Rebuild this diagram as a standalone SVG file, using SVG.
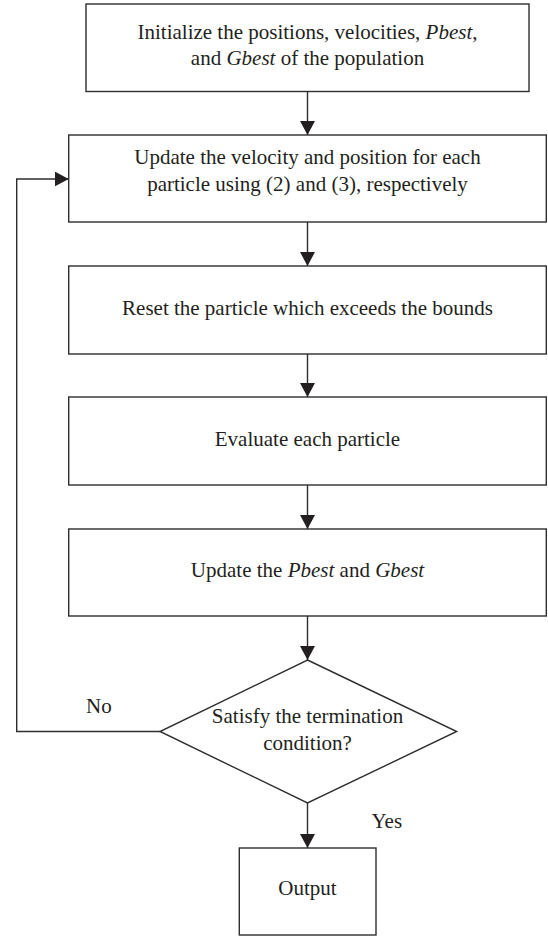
<svg xmlns="http://www.w3.org/2000/svg" width="548" height="936" viewBox="0 0 548 936">
<style>
.box{fill:#fff;stroke:#2e2e2e;stroke-width:1.4}
.ln{fill:none;stroke:#2e2e2e;stroke-width:1.4}
text{font-family:"Liberation Serif","Times New Roman",serif;font-size:21px;fill:#231f20}
.c{text-anchor:middle}
.i{font-style:italic}
</style>
<defs>
<marker id="ah" markerUnits="userSpaceOnUse" markerWidth="15" markerHeight="15" refX="14" refY="7.5" orient="auto" viewBox="0 0 15 15">
<path d="M0,0 L14,7.5 L0,15 z" fill="#231f20"/>
</marker>
</defs>
<rect width="548" height="936" fill="#fff"/>
<g id="connectors">
<line class="ln" x1="307.5" y1="91.5" x2="307.5" y2="135" marker-end="url(#ah)"/>
<line class="ln" x1="307.5" y1="222" x2="307.5" y2="266" marker-end="url(#ah)"/>
<line class="ln" x1="307.5" y1="354" x2="307.5" y2="397" marker-end="url(#ah)"/>
<line class="ln" x1="307.5" y1="485" x2="307.5" y2="529" marker-end="url(#ah)"/>
<line class="ln" x1="307.5" y1="616" x2="307.5" y2="660" marker-end="url(#ah)"/>
<line class="ln" x1="307.5" y1="803" x2="307.5" y2="848" marker-end="url(#ah)"/>
<polyline class="ln" points="160,731.5 16.7,731.5 16.7,179 68.7,179" marker-end="url(#ah)"/>
<text x="86" y="713">No</text>
<text x="371.5" y="828">Yes</text>
</g>
<g id="init">
<rect class="box" x="86" y="4" width="443" height="87.5"/>
<text class="c" x="307.5" y="39">Initialize the positions, velocities, <tspan class="i">Pbest</tspan>,</text>
<text class="c" x="307.5" y="65">and <tspan class="i">Gbest</tspan> of the population</text>
</g>
<g id="update">
<rect class="box" x="68.7" y="135" width="477.6" height="87"/>
<text class="c" x="307.5" y="164">Update the velocity and position for each</text>
<text class="c" x="307.5" y="191">particle using (2) and (3), respectively</text>
</g>
<g id="reset">
<rect class="box" x="68.7" y="266" width="477.6" height="88"/>
<text class="c" x="307.5" y="315">Reset the particle which exceeds the bounds</text>
</g>
<g id="evaluate">
<rect class="box" x="68.7" y="397" width="477.6" height="88"/>
<text class="c" x="307.5" y="446">Evaluate each particle</text>
</g>
<g id="best">
<rect class="box" x="68.7" y="529" width="477.6" height="87"/>
<text class="c" x="307.5" y="577">Update the <tspan class="i">Pbest</tspan> and <tspan class="i">Gbest</tspan></text>
</g>
<g id="decision">
<polygon class="box" points="307.5,660 456.7,731.5 307.5,803 160,731.5"/>
<text class="c" x="307.5" y="723">Satisfy the termination</text>
<text class="c" x="307.5" y="750">condition?</text>
</g>
<g id="output">
<rect class="box" x="239.3" y="848" width="136.7" height="87"/>
<text class="c" x="307.5" y="895">Output</text>
</g>
</svg>
